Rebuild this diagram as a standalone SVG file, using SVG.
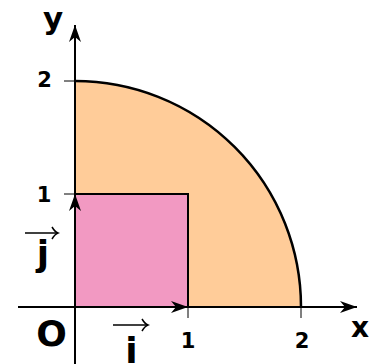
<svg xmlns="http://www.w3.org/2000/svg" width="373" height="364" viewBox="0 0 373 364">
<style>
.lbl{font-family:"DejaVu Sans",sans-serif;font-weight:bold;fill:#000;}
.num{font-size:21px;text-anchor:middle;}
.big{font-size:36px;text-anchor:middle;}
.axis{stroke:#000;stroke-width:2;fill:none;}
.tick{stroke:#000;stroke-width:1;fill:none;}
.vec{stroke:#000;stroke-width:1.5;fill:none;}
</style>
<defs>
<marker id="head" markerUnits="userSpaceOnUse" markerWidth="20" markerHeight="14" viewBox="-17 -7 18 14" refX="0" refY="0" orient="auto">
<path d="M0,0 L-17,-6 L-12,0 L-17,6 Z" fill="#000"/>
</marker>
<marker id="open" markerUnits="userSpaceOnUse" markerWidth="10" markerHeight="14" viewBox="-7 -7 8 14" refX="0" refY="0" orient="auto">
<path d="M-6,-6 Q-3,-1 0,0 Q-3,1 -6,6" fill="none" stroke="#000" stroke-width="1.5"/>
</marker>
</defs>
<g id="quarter-disc">
<path d="M75,307 L75,81 A226,226 0 0 1 301,307 Z" fill="#FFCC99" stroke="none"/>
<path d="M75,81 A226,226 0 0 1 301,307" fill="none" stroke="#000" stroke-width="2.5"/>
</g>
<g id="unit-square">
<rect x="75" y="194" width="113" height="113" fill="#F299C2" stroke="#000" stroke-width="2"/>
</g>
<g id="connectors">
<line class="axis" x1="18" y1="307" x2="357" y2="307" marker-end="url(#head)"/>
<line class="axis" x1="75" y1="364" x2="75" y2="25" marker-end="url(#head)"/>
<line class="axis" x1="75" y1="307" x2="188" y2="307" marker-end="url(#head)"/>
<line class="axis" x1="75" y1="307" x2="75" y2="194" marker-end="url(#head)"/>
<line class="tick" x1="188" y1="307" x2="188" y2="318"/>
<line class="tick" x1="301" y1="307" x2="301" y2="318"/>
<line class="tick" x1="64" y1="81" x2="75" y2="81"/>
<line class="tick" x1="64" y1="194" x2="75" y2="194"/>
<line class="vec" x1="25" y1="233" x2="58" y2="233" marker-end="url(#open)"/>
<line class="vec" x1="113" y1="325" x2="148" y2="325" marker-end="url(#open)"/>
</g>
<g id="labels">
<text class="lbl" x="43" y="29" font-size="31">y</text>
<text class="lbl" x="351" y="337" font-size="28">x</text>
<text class="lbl big" x="51.5" y="346">O</text>
<text class="lbl big" x="43" y="266">j</text>
<text class="lbl big" x="131.5" y="363">i</text>
<text class="lbl num" x="44.5" y="87">2</text>
<text class="lbl num" x="44" y="202">1</text>
<text class="lbl num" x="188" y="348">1</text>
<text class="lbl num" x="302" y="348">2</text>
</g>
</svg>
